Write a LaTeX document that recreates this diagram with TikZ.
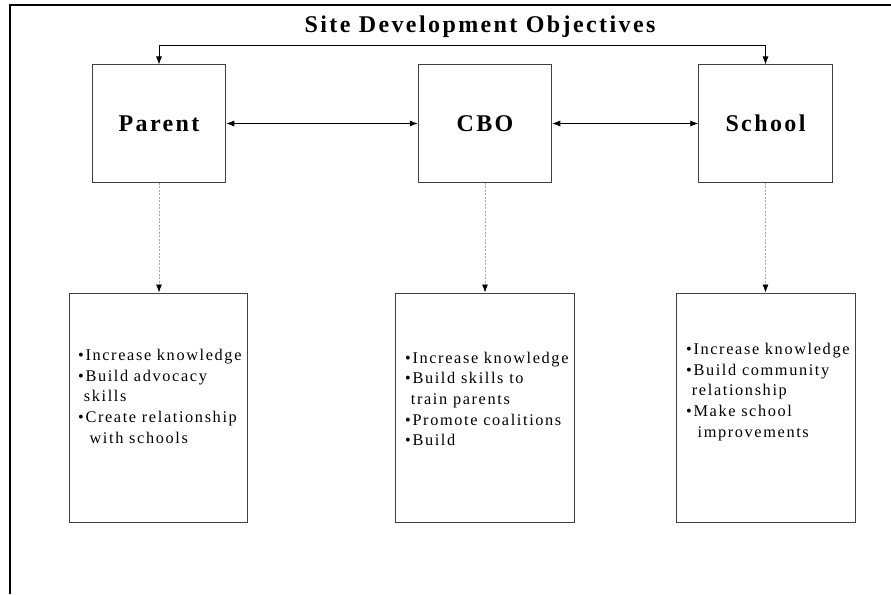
\documentclass[tikz,border=0pt]{standalone}
\usepackage{fontspec}
\setmainfont{Liberation Serif}[LetterSpace=10]
\usepackage{tikz}
\usetikzlibrary{arrows.meta}

\tikzset{
	frameline/.style={line width=2pt},
	headbox/.style={draw=black!75, line width=1pt, minimum width=133.5pt, minimum height=117pt, inner sep=0pt, font=\fontsize{24}{28}\selectfont\bfseries},
	goalbox/.style={draw=black!75, line width=1pt, minimum width=178.5pt, minimum height=229pt, inner sep=0pt},
	goaltext/.style={anchor=north west, align=left, inner sep=0pt, font=\fontsize{16.3}{20.7}\selectfont},
	titletext/.style={anchor=base, inner sep=0pt, font=\fontsize{24}{28}\selectfont\bfseries},
	linkarrow/.style={line width=0.8pt, {Latex[length=8pt,width=6pt]}-{Latex[length=8pt,width=6pt]}},
	dropline/.style={draw=black!35, line width=0.8pt, dash pattern=on 2pt off 1.5pt, -{Latex[length=8pt,width=6pt,color=black]}}
}

\begin{document}
\begin{tikzpicture}[x=1pt,y=-1pt]
	\useasboundingbox (0,0) rectangle (891,594);
	\draw[frameline] (10,594) -- (10,5) -- (891,5);
	\node[titletext] (title) at (480,33) {Site Development Objectives};
	\node[headbox] (parent) at (159,123.5) {Parent};
	\node[headbox] (cbo) at (485,123.5) {CBO};
	\node[headbox] (school) at (765.5,123.5) {School};
	\draw[linkarrow] (parent.north) -- ++(0,-19.5) -| (school.north);
	\draw[linkarrow] (parent.east) -- (cbo.west);
	\draw[linkarrow] (cbo.east) -- (school.west);
	\node[goalbox] (parentgoal) at (158.5,407.5) {};
	\node[goalbox] (cbogoal) at (485,407.5) {};
	\node[goalbox] (schoolgoal) at (766,407.5) {};
	\draw[dropline] (parent.south) -- (parent.south |- parentgoal.north);
	\draw[dropline] (cbo.south) -- (cbo.south |- cbogoal.north);
	\draw[dropline] (school.south) -- (school.south |- schoolgoal.north);
	\node[goaltext] (parentlist) at (78,349) {\textbullet Increase knowledge\\ \textbullet Build advocacy\\ \hphantom{\textbullet}skills\\ \textbullet Create relationship\\ \hphantom{\textbullet}\ with schools};
	\node[goaltext] (cbolist) at (405,351.6) {\textbullet Increase knowledge\\ \textbullet Build skills to\\ \hphantom{\textbullet}train parents\\ \textbullet Promote coalitions\\ \textbullet Build};
	\node[goaltext] (schoollist) at (686,343) {\textbullet Increase knowledge\\ \textbullet Build community\\ \hphantom{\textbullet}relationship\\ \textbullet Make school\\ \hphantom{\textbullet}\ improvements};
\end{tikzpicture}
\end{document}
